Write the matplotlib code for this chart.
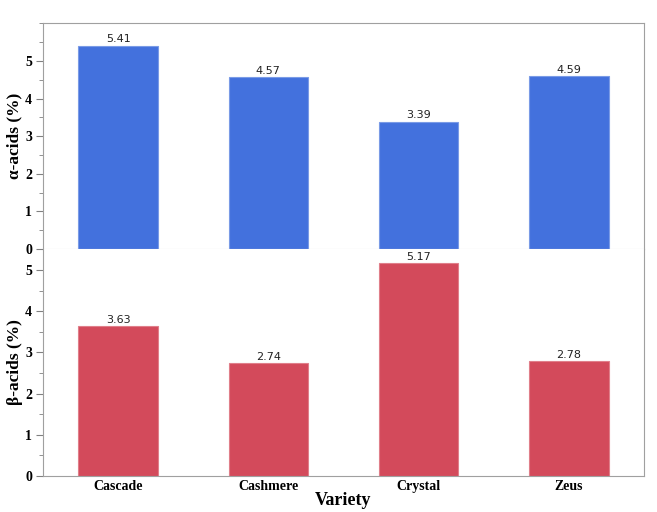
import matplotlib
matplotlib.use("Agg")
import matplotlib.pyplot as plt
from matplotlib.ticker import MultipleLocator

varieties = ["Cascade", "Cashmere", "Crystal", "Zeus"]
alpha_acids = [5.41, 4.57, 3.39, 4.59]
beta_acids = [3.63, 2.74, 5.17, 2.78]

fig = plt.figure(figsize=(6.57, 5.12), dpi=100)
L, R = 43/657, 644/657
top, mid, bot = 1-23/512, 1-249/512, 1-476/512
ax1 = fig.add_axes([L, mid, R-L, top-mid])
ax2 = fig.add_axes([L, bot, R-L, mid-bot], sharex=ax1)

serif = "Liberation Serif"
x = list(range(len(varieties)))
for ax, vals, col, ec, ylim, lab in [
    (ax1, alpha_acids, "#4371DD", "#7A9BE6", 6.01, "α-acids (%)"),
    (ax2, beta_acids, "#D34A5B", "#E07F8A", 5.51, "β-acids (%)"),
]:
    ax.bar(x, vals, width=0.53, color=col, edgecolor=ec, linewidth=0.8, zorder=2)
    for xi, v in zip(x, vals):
        ax.text(xi, v + 0.03, f"{v:.2f}", ha="center", va="bottom",
                fontsize=8, family="DejaVu Sans", color="#222222")
    ax.set_ylim(0, ylim)
    ax.set_xlim(-0.5, 3.5)
    ax.set_yticks([0, 1, 2, 3, 4, 5])
    ax.yaxis.set_minor_locator(MultipleLocator(0.5))
    ax.tick_params(axis="y", which="major", length=5, color="#808080", labelsize=10, pad=3)
    ax.tick_params(axis="y", which="minor", length=3, color="#808080")
    for t in ax.get_yticklabels():
        t.set_family(serif); t.set_fontweight("bold")
    ax.set_ylabel(lab, family=serif, fontweight="bold", fontsize=12.5, va="center")
    ax.yaxis.set_label_coords(-0.047, 0.5)
    for s in ax.spines.values():
        s.set_color("#A0A0A0")

ax1.spines["bottom"].set_color("#D8D8D8")
ax2.spines["top"].set_visible(False)
ax1.tick_params(axis="x", which="both", bottom=False, labelbottom=False)
ax2.tick_params(axis="x", length=0, labelsize=10, pad=3)
ax2.set_xticks(x)
ax2.set_xticklabels(varieties, family=serif, fontweight="bold")
ax2.set_xlabel("Variety", family=serif, fontweight="bold", fontsize=13)
ax2.xaxis.set_label_coords(0.499, -0.11)
ax2.xaxis.label.set_va("center")

fig.savefig("out.png", dpi=100)
